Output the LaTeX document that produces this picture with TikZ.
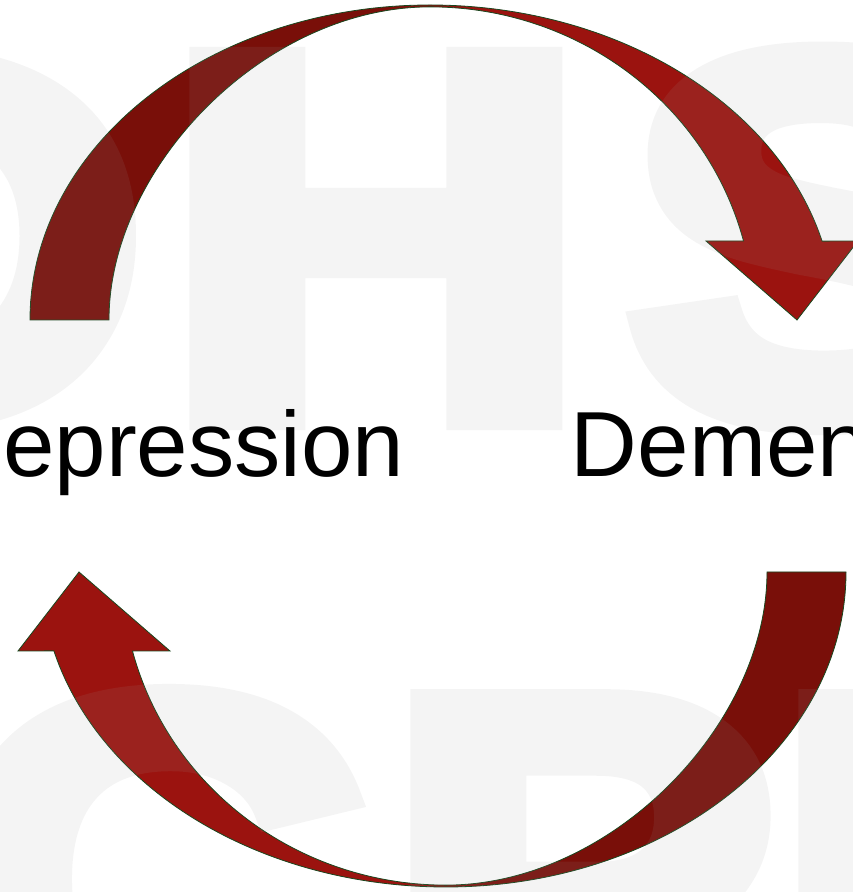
\documentclass[tikz,border=0pt]{standalone}
\usepackage{fontspec}
\setmainfont{Liberation Sans}
\newfontfamily\wmfont[FakeBold=5.6]{Liberation Sans Bold}
\definecolor{arrdark}{RGB}{121,15,9}
\definecolor{arrbright}{RGB}{155,19,15}
\definecolor{arredge}{RGB}{25,70,30}
\definecolor{wmgray}{RGB}{156,156,156}
\pgfdeclarehorizontalshading{arrowLR}{100bp}{color(0bp)=(arrdark); color(46bp)=(arrdark); color(52bp)=(arrbright); color(100bp)=(arrbright)}
\pgfdeclarehorizontalshading{arrowRL}{100bp}{color(0bp)=(arrbright); color(48bp)=(arrbright); color(54bp)=(arrdark); color(100bp)=(arrdark)}
\begin{document}
\begin{tikzpicture}[x=1pt,y=1pt,
  arrowshape/.style={draw=arredge, line width=0.8pt, line join=miter},
  wmletter/.style={anchor=base west, inner sep=0pt, outer sep=0pt, xscale=1.124, text=wmgray, font=\wmfont\fontsize{515}{515}\selectfont},
  lbltext/.style={anchor=base west, inner sep=0pt, outer sep=0pt, text=black, font=\fontsize{92.5}{92.5}\selectfont}]
\useasboundingbox (0,0) rectangle (853,892);
\clip (0,0) rectangle (853,892);
\fill[white] (0,0) rectangle (853,892);
\def\arrowpath{(30,572) arc[start angle=180,end angle=90,x radius=400,y radius=315]
  arc[start angle=90,end angle=14.5,x radius=405,y radius=315]
  -- (858,651) -- (797,572) -- (706,651) -- (743.5,651)
  arc[start angle=14.6,end angle=90,x radius=324,y radius=313]
  .. controls (265,885) and (109,725) .. (109,572) -- cycle}
% top arrow: Depression -> Dementia
\path[shading=arrowLR, arrowshape] \arrowpath;
% bottom arrow: Dementia -> Depression
\begin{scope}[rotate around={180:(438,446)}]
\path[shading=arrowRL, arrowshape] \arrowpath;
\end{scope}
% watermark
\begin{scope}[transparency group, opacity=0.11]
\node[wmletter] (wmD1) at (-274,476.4) {D};
\node[wmletter] (wmH) at (167,476.4) {H};
\node[wmletter] (wmS) at (628.5,476.4) {S};
\node[wmletter] (wmC) at (-52,-166) {C};
\node[wmletter] (wmP) at (388,-166) {P};
\node[wmletter] (wmD2) at (776,-166) {D};
\end{scope}
% labels
\node[lbltext] (dep) at (-63.6,415) {Depression};
\node[lbltext] (dem) at (570.9,415) {Dementia};
\end{tikzpicture}
\end{document}
